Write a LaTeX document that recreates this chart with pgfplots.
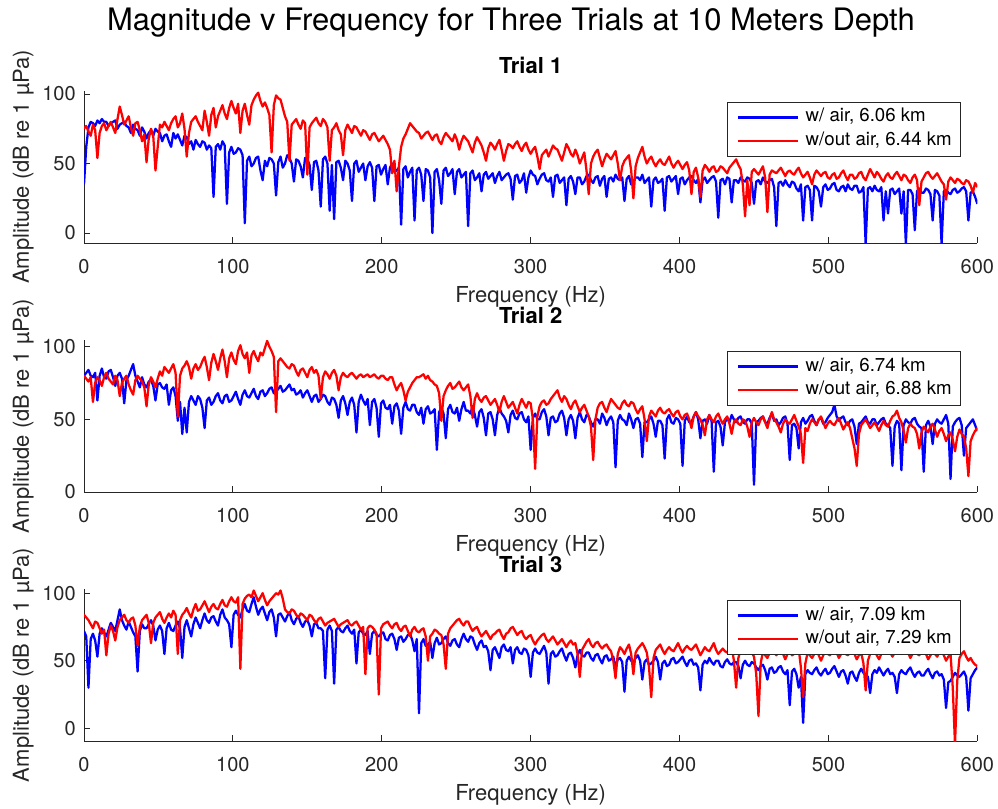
\documentclass[border=0pt]{standalone}
\usepackage{fontspec}
\setmainfont{TeX Gyre Heros}
\usepackage{pgfplots}
\usepackage{pgfplotstable}
\pgfplotsset{compat=1.18}
\definecolor{axgray}{RGB}{38,38,38}
\definecolor{mblue}{RGB}{0,0,255}
\definecolor{mred}{RGB}{255,0,0}

\pgfplotstableread{
f a b
0 35 75
1.5 62 77
3 76 73
4.5 80 70
6 79 78
7.5 77 74
9 81 54
10.5 79 72
12 82 77
13.5 80 79
15 80 74
16.5 77 77
18 79 80
19.5 80 76
21 81 72
22.5 75 82
24 78 91
25.5 79 85
27 80 78
28.5 77 81
30 76 84
31.5 72 76
33 78 70
34.5 75 79
36 74 80
37.5 70 74
39 76 66
40.5 73 71
42 68 51
43.5 72 68
45 74 75
46.5 70 70
48 75 45
49.5 73 62
51 72 78
52.5 66 76
54 70 80
55.5 71 77
57 66 74
58.5 62 79
60 72 82
61.5 68 84
63 71 76
64.5 67 79
66 63 86
67.5 70 75
69 69 55
70.5 64 72
72 66 80
73.5 60 82
75 67 84
76.5 64 80
78 62 77
79.5 66 74
81 65 88
82.5 60 80
84 63 70
85.5 61 85
87 26 90
88.5 62 76
90 64 84
91.5 60 88
93 66 92
94.5 63 86
96 21 82
97.5 58 90
99 62 95
100.5 57 90
102 58 86
103.5 61 93
105 60 72
106.5 56 88
108 7 93
109.5 52 85
111 55 78
112.5 48 92
114 50 96
115.5 54 99
117 55 101
118.5 45 95
120 38 91
121.5 52 94
123 48 90
124.5 54 85
126 53 58
127.5 50 92
129 27 99
130.5 51 97
132 55 96
133.5 47 90
135 50 84
136.5 56 80
138 54 52
139.5 50 78
141 37 80
142.5 53 82
144 52 78
145.5 48 75
147 40 81
148.5 54 79
150 53 42
151.5 49 76
153 31 79
154.5 51 81
156 52 83
157.5 45 79
159 19 77
160.5 53 82
162 55 80
163.5 50 76
165 16 52
166.5 49 74
168 10 76
169.5 51 79
171 52 74
172.5 47 71
174 38 56
175.5 52 74
177 50 78
178.5 45 75
180 23 72
181.5 50 77
183 52 76
184.5 44 73
186 47 70
187.5 50 74
189 38 73
190.5 48 70
192 51 67
193.5 47 71
195 23 72
196.5 48 69
198 49 66
199.5 42 68
201 46 70
202.5 49 67
204 35 64
205.5 47 60
207 50 43
208.5 44 52
210 45 30
211.5 47 48
213 6 62
214.5 46 68
216 48 71
217.5 40 75
219 44 79
220.5 47 77
222 9 75
223.5 45 73
225 47 72
226.5 42 68
228 23 70
229.5 46 72
231 45 73
232.5 40 70
234 0 67
235.5 44 70
237 46 71
238.5 38 66
240 21 64
241.5 45 69
243 47 72
244.5 41 70
246 43 68
247.5 46 66
249 28 71
250.5 44 67
252 46 60
253.5 40 66
255 42 70
256.5 44 68
258 5 66
259.5 43 62
261 45 58
262.5 38 65
264 40 69
265.5 43 66
267 30 63
268.5 42 58
270 44 52
271.5 39 61
273 41 65
274.5 43 63
276 36 60
277.5 41 64
279 44 67
280.5 38 60
282 40 52
283.5 42 59
285 43 64
286.5 39 63
288 24 61
289.5 41 64
291 42 66
292.5 36 62
294 38 59
295.5 43 63
297 29 65
298.5 40 60
300 45 57
301.5 42 60
303 41 62
304.5 35 55
306 39 46
307.5 42 56
309 43 58
310.5 38 60
312 37 55
313.5 40 59
315 26 63
316.5 41 61
318 42 60
319.5 36 56
321 38 52
322.5 40 58
324 20 64
325.5 39 61
327 41 57
328.5 37 55
330 28 60
331.5 40 56
333 40 50
334.5 35 54
336 37 58
337.5 41 45
339 42 28
340.5 38 50
342 36 55
343.5 40 58
345 41 60
346.5 34 54
348 39 48
349.5 41 53
351 26 57
352.5 39 55
354 40 53
355.5 37 56
357 42 59
358.5 39 50
360 38 38
361.5 40 48
363 23 52
364.5 39 54
366 41 56
367.5 35 45
369 37 25
370.5 40 48
372 40 54
373.5 38 58
375 42 62
376.5 36 55
378 38 50
379.5 40 53
381 19 55
382.5 38 51
384 40 48
385.5 36 51
387 37 53
388.5 39 50
390 16 49
391.5 40 52
393 41 55
394.5 37 50
396 39 47
397.5 41 50
399 28 52
400.5 39 49
402 40 46
403.5 35 49
405 38 51
406.5 40 45
408 41 28
409.5 38 44
411 36 47
412.5 39 40
414 22 26
415.5 38 45
417 40 49
418.5 36 47
420 38 44
421.5 40 47
423 41 48
424.5 37 44
426 11 45
427.5 38 48
429 39 47
430.5 35 45
432 40 43
433.5 39 47
435 22 49
436.5 38 51
438 38 53
439.5 36 49
441 40 46
442.5 38 35
444 37 12
445.5 40 38
447 39 20
448.5 36 44
450 21 46
451.5 37 44
453 38 42
454.5 35 45
456 40 48
457.5 37 40
459 36 15
460.5 38 42
462 39 45
463.5 33 44
465 5 43
466.5 36 45
468 37 47
469.5 34 44
471 38 41
472.5 35 44
474 33 45
475.5 37 43
477 36 42
478.5 32 45
480 30 47
481.5 35 43
483 9 40
484.5 33 42
486 34 44
487.5 31 40
489 9 35
490.5 34 42
492 33 45
493.5 30 43
495 19 41
496.5 33 43
498 35 44
499.5 31 40
501 32 39
502.5 35 42
504 36 43
505.5 31 39
507 30 40
508.5 33 43
510 34 45
511.5 30 41
513 35 38
514.5 32 42
516 31 42
517.5 34 39
519 34 40
520.5 29 43
522 30 44
523.5 33 40
525 -8 38
526.5 32 42
528 33 46
529.5 30 43
531 34 40
532.5 31 44
534 30 42
535.5 33 39
537 9 37
538.5 30 41
540 14 43
541.5 31 40
543 32 39
544.5 28 42
546 30 44
547.5 32 41
549 14 38
550.5 30 42
552 -8 41
553.5 31 38
555 31 36
556.5 28 40
558 2 42
559.5 30 38
561 32 20
562.5 29 37
564 29 40
565.5 32 43
567 31 44
568.5 28 41
570 9 39
571.5 31 41
573 30 43
574.5 27 40
576 -8 37
577.5 30 35
579 31 24
580.5 29 37
582 28 40
583.5 31 38
585 32 36
586.5 29 39
588 30 38
589.5 32 36
591 33 35
592.5 30 38
594 9 37
595.5 29 34
597 30 29
598.5 26 36
600 21 33
}\trialone

\pgfplotstableread{
f a b
0 80 80
1.5 82 78
3 84 76
4.5 80 79
6 79 62
7.5 82 75
9 63 79
10.5 80 77
12 85 73
13.5 79 79
15 78 82
16.5 83 78
18 84 76
19.5 79 74
21 73 80
22.5 80 77
24 82 66
25.5 78 75
27 61 78
28.5 77 80
30 80 74
31.5 84 70
33 88 67
34.5 80 77
36 76 80
37.5 72 78
39 79 76
40.5 74 72
42 72 59
43.5 76 74
45 77 79
46.5 73 76
48 63 72
49.5 74 78
51 75 83
52.5 72 80
54 71 86
55.5 74 84
57 60 82
58.5 70 85
60 72 88
61.5 66 82
63 49 52
64.5 62 80
66 40 85
67.5 58 87
69 41 90
70.5 62 86
72 66 78
73.5 63 85
75 60 88
76.5 66 84
78 64 86
79.5 58 90
81 44 93
82.5 63 86
84 65 77
85.5 60 89
87 62 95
88.5 66 90
90 68 84
91.5 63 92
93 61 98
94.5 66 90
96 67 79
97.5 62 92
99 63 96
100.5 66 91
102 69 88
103.5 64 97
105 60 101
106.5 67 95
108 70 92
109.5 66 96
111 65 82
112.5 68 94
114 71 97
115.5 66 93
117 64 90
118.5 69 96
120 70 94
121.5 66 99
123 68 104
124.5 71 100
126 72 97
127.5 68 93
129 69 55
130.5 71 90
132 73 92
133.5 69 90
135 70 88
136.5 72 86
138 74 85
139.5 70 88
141 71 87
142.5 67 83
144 68 80
145.5 70 84
147 65 85
148.5 68 82
150 70 79
151.5 66 84
153 62 86
154.5 66 82
156 67 84
157.5 62 80
159 64 64
160.5 67 79
162 66 83
163.5 62 81
165 60 78
166.5 65 82
168 64 84
169.5 60 80
171 51 70
172.5 63 79
174 66 82
175.5 61 80
177 53 79
178.5 62 81
180 65 82
181.5 60 80
183 41 78
184.5 62 80
186 67 81
187.5 63 79
189 60 80
190.5 64 81
192 46 79
193.5 62 80
195 64 81
196.5 58 79
198 38 78
199.5 61 80
201 63 80
202.5 58 78
204 57 77
205.5 60 79
207 47 79
208.5 59 74
210 61 70
211.5 56 73
213 40 75
214.5 58 70
216 62 63
217.5 57 69
219 56 72
220.5 60 75
222 60 77
223.5 55 79
225 53 79
226.5 58 80
228 47 81
229.5 57 78
231 59 80
232.5 54 77
234 55 76
235.5 57 74
237 29 73
238.5 55 68
240 58 49
241.5 54 66
243 37 70
244.5 57 73
246 60 75
247.5 55 71
249 54 72
250.5 58 74
252 49 76
253.5 57 72
255 62 70
256.5 56 72
258 56 74
259.5 54 66
261 59 51
262.5 53 64
264 45 68
265.5 55 64
267 57 62
268.5 51 65
270 39 66
271.5 54 63
273 55 60
274.5 50 62
276 39 64
277.5 53 60
279 58 55
280.5 54 62
282 52 66
283.5 49 62
285 41 58
286.5 53 60
288 56 62
289.5 51 58
291 50 54
292.5 54 60
294 55 64
295.5 50 61
297 48 58
298.5 52 62
300 29 61
301.5 51 50
303 54 16
304.5 50 52
306 50 59
307.5 55 62
309 57 63
310.5 52 60
312 39 61
313.5 51 64
315 52 66
316.5 48 68
318 49 70
319.5 54 65
321 56 62
322.5 51 66
324 39 64
325.5 50 60
327 53 57
328.5 49 61
330 37 63
331.5 51 59
333 55 55
334.5 50 58
336 48 60
337.5 53 56
339 52 52
340.5 48 45
342 45 22
343.5 50 50
345 50 58
346.5 47 61
348 54 62
349.5 51 58
351 46 55
352.5 50 60
354 52 64
355.5 48 62
357 17 60
358.5 49 58
360 53 57
361.5 50 61
363 49 63
364.5 46 60
366 54 59
367.5 50 62
369 44 61
370.5 50 57
372 51 54
373.5 47 57
375 24 59
376.5 48 50
378 48 35
379.5 50 52
381 52 56
382.5 47 54
384 38 52
385.5 49 56
387 49 58
388.5 46 55
390 23 54
391.5 50 56
393 53 57
394.5 48 54
396 47 52
397.5 51 55
399 50 56
400.5 47 52
402 18 50
403.5 49 53
405 52 54
406.5 48 50
408 48 44
409.5 52 52
411 55 55
412.5 50 52
414 37 50
415.5 49 46
417 50 39
418.5 47 50
420 53 53
421.5 49 50
423 14 48
424.5 48 52
426 49 54
427.5 45 50
429 32 47
430.5 48 50
432 51 52
433.5 48 47
435 53 40
436.5 50 48
438 48 50
439.5 51 47
441 52 46
442.5 48 50
444 47 49
445.5 50 45
447 50 38
448.5 47 48
450 5 51
451.5 48 48
453 49 46
454.5 51 50
456 52 52
457.5 48 48
459 47 44
460.5 51 50
462 54 55
463.5 49 50
465 50 48
466.5 46 45
468 48 41
469.5 51 47
471 52 50
472.5 47 48
474 22 47
475.5 46 50
477 47 53
478.5 44 49
480 30 45
481.5 48 40
483 51 20
484.5 47 44
486 49 42
487.5 52 47
489 53 50
490.5 49 48
492 46 46
493.5 50 50
495 51 52
496.5 47 48
498 48 44
499.5 51 47
501 53 49
502.5 55 47
504 60 46
505.5 52 49
507 49 51
508.5 51 47
510 52 43
511.5 48 46
513 46 48
514.5 49 44
516 50 37
517.5 45 30
519 33 18
520.5 47 40
522 48 46
523.5 50 48
525 52 50
526.5 48 47
528 47 44
529.5 50 46
531 50 48
532.5 46 45
534 48 42
535.5 50 46
537 51 49
538.5 47 46
540 46 45
541.5 44 49
543 18 52
544.5 45 53
546 49 56
547.5 47 51
549 15 48
550.5 46 42
552 50 34
553.5 48 44
555 47 47
556.5 50 45
558 51 44
559.5 47 40
561 45 30
562.5 44 41
564 14 45
565.5 46 43
567 49 41
568.5 45 45
570 33 47
571.5 47 43
573 50 38
574.5 48 42
576 47 44
577.5 50 40
579 53 35
580.5 47 39
582 9 41
583.5 45 36
585 48 28
586.5 50 38
588 51 43
589.5 46 40
591 25 38
592.5 44 30
594 46 11
595.5 48 35
597 50 39
598.5 46 42
600 42 44
}\trialtwo

\pgfplotstableread{
f a b
0 72 84
1.5 68 82
3 30 80
4.5 66 77
6 70 74
7.5 65 79
9 53 78
10.5 70 74
12 74 70
13.5 71 73
15 68 54
16.5 73 70
18 78 76
19.5 75 72
21 72 65
22.5 80 75
24 88 80
25.5 80 82
27 76 84
28.5 73 80
30 79 78
31.5 75 81
33 71 82
34.5 68 76
36 42 61
37.5 72 75
39 77 80
40.5 74 82
42 74 84
43.5 77 78
45 80 63
46.5 76 78
48 65 82
49.5 73 84
51 76 86
52.5 72 81
54 55 78
55.5 74 82
57 78 85
58.5 73 82
60 72 87
61.5 76 84
63 79 55
64.5 74 80
66 52 84
67.5 75 86
69 80 89
70.5 74 85
72 68 82
73.5 77 88
75 82 92
76.5 78 87
78 74 88
79.5 80 91
81 85 94
82.5 80 90
84 78 86
85.5 82 90
87 83 92
88.5 79 89
90 76 88
91.5 84 92
93 88 95
94.5 82 91
96 80 90
97.5 77 94
99 60 97
100.5 84 94
102 87 93
103.5 84 97
105 82 44
106.5 88 92
108 92 96
109.5 87 98
111 86 99
112.5 92 97
114 97 102
115.5 90 98
117 84 94
118.5 88 97
120 90 100
121.5 85 95
123 80 91
124.5 86 94
126 88 96
127.5 82 98
129 68 100
130.5 84 99
132 85 102
133.5 82 96
135 79 88
136.5 83 86
138 86 85
139.5 80 88
141 77 87
142.5 81 84
144 83 82
145.5 78 85
147 75 84
148.5 79 82
150 80 80
151.5 76 84
153 68 83
154.5 77 80
156 78 78
157.5 74 81
159 74 82
160.5 72 79
162 37 76
163.5 73 78
165 76 79
166.5 72 80
168 33 81
169.5 73 78
171 75 75
172.5 72 77
174 71 78
175.5 74 79
177 76 80
178.5 72 77
180 70 76
181.5 73 78
183 48 79
184.5 71 76
186 73 73
187.5 70 75
189 69 40
190.5 72 74
192 55 76
193.5 70 75
195 72 73
196.5 69 70
198 68 25
199.5 70 74
201 71 77
202.5 66 78
204 65 79
205.5 69 76
207 70 74
208.5 66 77
210 58 78
211.5 67 74
213 68 72
214.5 64 75
216 66 76
217.5 69 72
219 70 68
220.5 65 73
222 57 75
223.5 66 72
225 11 71
226.5 63 73
228 66 74
229.5 61 68
231 62 50
232.5 64 68
234 52 70
235.5 63 73
237 67 72
238.5 62 70
240 63 69
241.5 66 62
243 68 44
244.5 63 70
246 61 74
247.5 65 76
249 66 78
250.5 62 80
252 60 81
253.5 66 78
255 70 76
256.5 66 79
258 64 79
259.5 68 75
261 67 72
262.5 62 74
264 58 75
265.5 63 71
267 65 68
268.5 60 70
270 61 72
271.5 57 69
273 43 66
274.5 58 69
276 60 70
277.5 56 72
279 52 73
280.5 60 69
282 62 66
283.5 58 70
285 57 71
286.5 60 74
288 48 75
289.5 58 72
291 60 69
292.5 56 71
294 55 72
295.5 59 68
297 58 66
298.5 54 68
300 38 69
301.5 56 65
303 59 62
304.5 56 65
306 55 67
307.5 58 69
309 61 70
310.5 56 66
312 33 64
313.5 55 66
315 57 68
316.5 53 65
318 54 62
319.5 57 64
321 59 66
322.5 54 63
324 50 60
325.5 55 63
327 56 65
328.5 52 62
330 45 63
331.5 54 55
333 58 38
334.5 54 58
336 53 61
337.5 56 64
339 56 66
340.5 52 62
342 50 60
343.5 54 63
345 55 64
346.5 51 61
348 48 59
349.5 53 61
351 54 62
352.5 50 59
354 51 57
355.5 53 50
357 45 37
358.5 51 55
360 52 60
361.5 49 58
363 27 55
364.5 50 59
366 53 62
367.5 50 55
369 49 40
370.5 52 56
372 54 59
373.5 50 61
375 36 63
376.5 49 60
378 51 56
379.5 47 45
381 48 23
382.5 50 52
384 53 58
385.5 49 60
387 36 62
388.5 48 58
390 50 55
391.5 46 58
393 47 60
394.5 51 58
396 52 57
397.5 48 60
399 49 63
400.5 51 59
402 53 56
403.5 49 59
405 46 61
406.5 50 59
408 51 58
409.5 47 60
411 48 62
412.5 45 58
414 28 54
415.5 47 57
417 50 60
418.5 48 58
420 52 57
421.5 49 60
423 47 63
424.5 50 58
426 50 55
427.5 46 57
429 45 59
430.5 49 57
432 51 56
433.5 48 59
435 47 61
436.5 49 50
438 49 30
439.5 46 52
441 37 58
442.5 47 56
444 50 55
445.5 47 58
447 46 60
448.5 49 56
450 48 53
451.5 45 40
453 43 9
454.5 46 48
456 47 57
457.5 43 54
459 36 52
460.5 44 56
462 45 59
463.5 41 56
465 42 54
466.5 45 57
468 46 60
469.5 42 55
471 40 51
472.5 43 55
474 17 57
475.5 42 54
477 44 55
478.5 40 57
480 30 59
481.5 38 45
483 4 23
484.5 40 48
486 43 56
487.5 41 54
489 40 52
490.5 43 55
492 45 58
493.5 41 54
495 39 50
496.5 42 54
498 44 57
499.5 40 55
501 41 54
502.5 44 57
504 46 60
505.5 42 56
507 38 52
508.5 42 55
510 43 57
511.5 39 55
513 33 54
514.5 41 56
516 42 59
517.5 38 55
519 35 51
520.5 41 54
522 44 56
523.5 41 48
525 40 28
526.5 38 50
528 26 55
529.5 40 57
531 43 58
532.5 41 54
534 45 51
535.5 42 55
537 39 57
538.5 42 58
540 44 60
541.5 40 56
543 41 53
544.5 38 56
546 26 58
547.5 40 56
549 43 55
550.5 41 58
552 40 60
553.5 43 56
555 45 52
556.5 41 55
558 38 57
559.5 41 55
561 42 54
562.5 39 57
564 39 59
565.5 42 55
567 44 51
568.5 40 54
570 37 56
571.5 41 55
573 42 53
574.5 39 56
576 40 58
577.5 36 54
579 15 50
580.5 34 53
582 35 55
583.5 38 30
585 41 -12
586.5 39 35
588 38 52
589.5 40 55
591 42 57
592.5 38 53
594 13 50
595.5 37 52
597 40 49
598.5 43 47
600 45 46
}\trialthree

\pgfplotsset{
  trial/.style={
    scale only axis, width=670pt, height=114pt,
    xmin=0, xmax=600, xtick={0,100,...,600}, ytick={0,50,100},
    axis x line=bottom, axis y line=left,
    axis line style={-, draw=axgray, line width=0.6pt},
    x axis line style={-}, y axis line style={-},
    tick align=inside, major tick length=4.5pt,
    tick style={draw=axgray, line width=0.6pt},
    /pgf/number format/assume math mode=true,
    ticklabel style={font=\fontsize{15}{15}\selectfont, text=axgray, inner sep=0pt},
    xticklabel style={yshift=-12pt},
    yticklabel style={xshift=-6pt},
    xlabel={Frequency (Hz)},
    ylabel={Amplitude (dB re 1 µPa)},
    xlabel style={at={(axis description cs:0.5,-0.283)}, anchor=north, inner sep=0pt,
      font=\fontsize{16.5}{18}\selectfont, text=axgray},
    ylabel style={at={(axis description cs:-0.0616,0.5)}, anchor=base, inner sep=0pt,
      font=\fontsize{16.5}{18}\selectfont, text=axgray},
    title style={at={(axis description cs:0.5,1)}, anchor=base, yshift=6.75pt, inner sep=0pt,
      font=\bfseries\fontsize{16.5}{18}\selectfont},
    legend cell align=left,
    legend style={at={(axis description cs:1,1)}, anchor=north east,
      xshift=-12.2pt, yshift=-8pt, draw=axgray, line width=0.5pt, fill=white,
      font=\fontsize{14}{16}\selectfont,
      nodes={inner sep=0pt, text height=10pt, text depth=3.5pt},
      row sep=4pt, column sep=5pt, inner xsep=6.75pt, inner ysep=5pt},
    legend image code/.code={\draw[#1, line width=1.8pt] (0pt,0pt) -- (45pt,0pt);},
    every axis plot/.append style={line width=1.7pt, line join=round},
  }
}

\begin{document}
\begin{tikzpicture}
\useasboundingbox (0pt,0pt) rectangle (748.5pt,606pt);
\node[anchor=base, inner sep=0pt, font=\fontsize{23.2}{28}\selectfont] at (383.25pt,582.75pt)
  {Magnitude v Frequency for Three Trials at 10 Meters Depth};

\begin{axis}[trial, at={(63pt,423.75pt)}, anchor=south west,
  ymin=-7.2, ymax=102.2, title={Trial 1}]
\addplot[mblue] table[x=f, y=a] {\trialone};
\addlegendentry{w/ air, 6.06 km}
\addplot[mred] table[x=f, y=b] {\trialone};
\addlegendentry{w/out air, 6.44 km}
\end{axis}

\begin{axis}[trial, at={(63pt,237pt)}, anchor=south west,
  ymin=0, ymax=104.6, title={Trial 2}]
\addplot[mblue] table[x=f, y=a] {\trialtwo};
\addlegendentry{w/ air, 6.74 km}
\addplot[mred] table[x=f, y=b] {\trialtwo};
\addlegendentry{w/out air, 6.88 km}
\end{axis}

\begin{axis}[trial, at={(63pt,50.25pt)}, anchor=south west,
  ymin=-9.5, ymax=103.1, title={Trial 3}]
\addplot[mblue] table[x=f, y=a] {\trialthree};
\addlegendentry{w/ air, 7.09 km}
\addplot[mred] table[x=f, y=b] {\trialthree};
\addlegendentry{w/out air, 7.29 km}
\end{axis}
\end{tikzpicture}
\end{document}
